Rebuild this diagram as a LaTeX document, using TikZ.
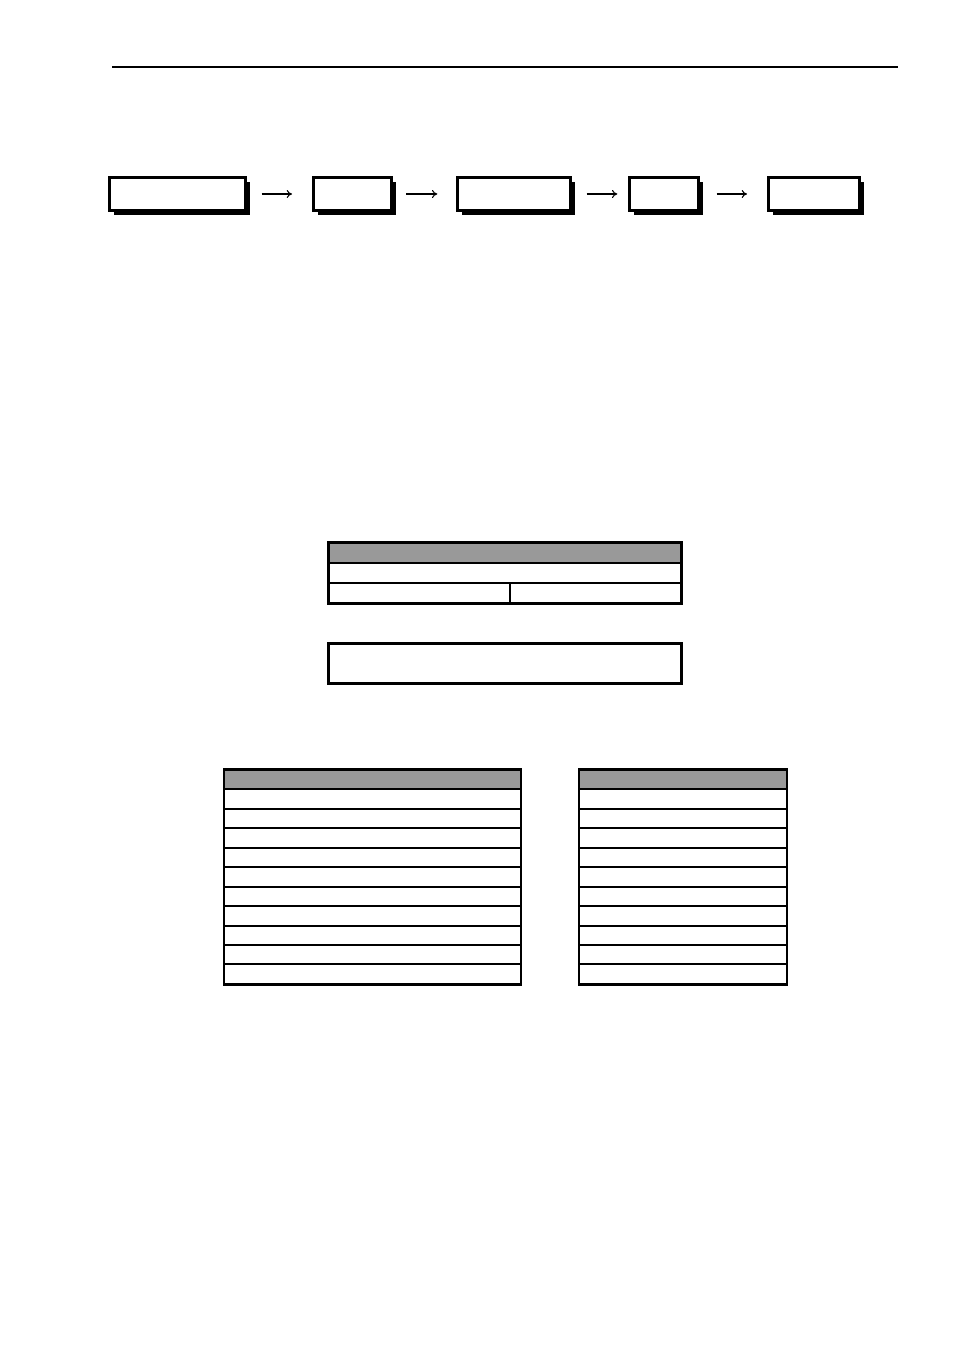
\documentclass[tikz,border=0pt]{standalone}
\usetikzlibrary{shadows,arrows.meta}
\begin{document}
\begin{tikzpicture}[x=0.75pt,y=-0.75pt,
  flowbox/.style={draw=black,line width=2.25pt,fill=white,inner sep=0pt,
    minimum height=24.75pt,
    drop shadow={shadow xshift=3.5pt,shadow yshift=-3.3pt,fill=black,opacity=1}},
  flowarrow/.style={-{To[length=4pt,width=6pt]},line width=0.8pt},
  thickrule/.style={line width=2pt},
  thinrule/.style={line width=1pt},
  midrule/.style={line width=1.5pt},
  headfill/.style={fill=black!40}]
\useasboundingbox (0,0) rectangle (954,1351);
% page header rule
\draw[line width=1.5pt] (112,67) -- (898,67);
% flow boxes
\node[flowbox,minimum width={136*0.75pt}] (b1) at (177.5,194) {};
\node[flowbox,minimum width={78*0.75pt}] (b2) at (352.5,194) {};
\node[flowbox,minimum width={113*0.75pt}] (b3) at (514,194) {};
\node[flowbox,minimum width={69*0.75pt}] (b4) at (664,194) {};
\node[flowbox,minimum width={91*0.75pt}] (b5) at (814,194) {};
\draw[flowarrow,shorten <=11pt,shorten >=15pt] (b1.east) -- (b2.west);
\draw[flowarrow,shorten <=10pt,shorten >=14pt] (b2.east) -- (b3.west);
\draw[flowarrow,shorten <=11pt,shorten >=8pt] (b3.east) -- (b4.west);
\draw[flowarrow,shorten <=12.5pt,shorten >=15pt] (b4.east) -- (b5.west);
% table 1
\fill[headfill] (328,542) rectangle (682,563);
\draw[thinrule] (328,563) -- (682,563);
\draw[thinrule] (328,583) -- (682,583);
\draw[thinrule] (510,583) -- (510,604);
\draw[thickrule] (328.5,542.5) rectangle (681.5,603.5);
% box under table 1
\draw[line width=2.25pt] (328.5,643.5) rectangle (681.5,683.5);
% table 2 and table 3
\foreach \xl/\xr in {224/521,579/787}{
  \fill[headfill] (\xl,769) rectangle (\xr,789);
  \foreach \yy in {789,828,867,887,906,926,945,964}
    \draw[thinrule] (\xl,\yy) -- (\xr,\yy);
  \foreach \yy in {809,848}
    \draw[midrule] (\xl,\yy) -- (\xr,\yy);
  \draw[thickrule] (\xl,769.5) rectangle (\xr,984.5);
}
\end{tikzpicture}
\end{document}
